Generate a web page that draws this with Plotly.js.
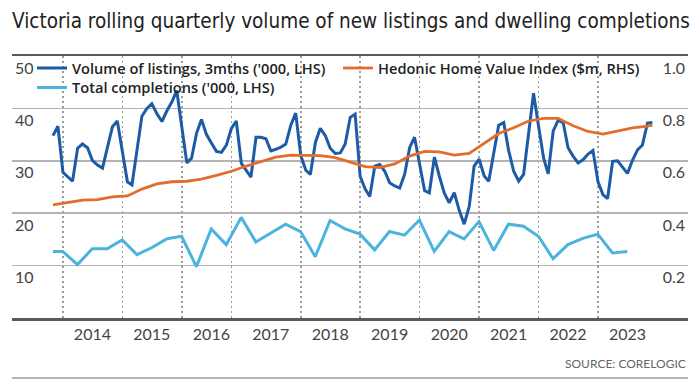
<!DOCTYPE html>
<html>
<head>
<meta charset="utf-8">
<script src="https://cdn.plot.ly/plotly-3.0.1.min.js"></script>
<style>
  html, body { margin: 0; padding: 0; background: #fff; }
  #chart { width: 700px; height: 381px; }
</style>
</head>
<body>
<div id="chart"></div>
<script>
// ---------- DATA ----------
// Volume of listings, rolling 3 months ('000, LHS), monthly from Nov 2013
const listingsStart = [2013, 11];
const listings = [
  34.8, 36.6, 27.8, 26.8, 26.1, 32.4, 33.2, 32.5, 30.1, 29.2, 28.6, 32.5,
  36.5, 37.6, 32.0, 26.0, 25.4, 31.9, 38.5, 40.0, 40.9, 39.0, 37.5, 39.5,
  41.2, 43.4, 36.5, 29.6, 30.5, 35.3, 37.9, 35.0, 33.4, 31.8, 31.6, 33.0,
  36.2, 37.6, 29.5, 28.0, 26.9, 34.5, 34.5, 34.2, 31.9, 32.2, 32.6, 33.2,
  36.8, 39.1, 31.0, 28.2, 27.4, 33.5, 36.2, 34.8, 32.4, 31.4, 31.5, 33.2,
  38.3, 38.9, 27.0, 24.6, 23.2, 29.0, 29.3, 28.0, 25.8, 25.2, 24.8, 27.4,
  32.5, 34.5, 29.0, 24.3, 23.9, 30.7, 27.1, 23.8, 22.0, 23.9, 20.5, 17.9,
  21.3, 29.0, 30.3, 27.1, 26.1, 31.9, 36.8, 37.3, 32.0, 28.0, 26.1, 27.4,
  35.0, 42.9, 36.6, 30.5, 27.5, 35.7, 37.7, 37.3, 32.5, 30.9, 29.6, 30.2,
  31.3, 32.0, 26.0, 23.5, 22.8, 29.9, 30.0, 28.8, 27.6, 30.1, 32.1, 33.0,
  37.2, 37.3
];

// Hedonic Home Value Index ($m, RHS), quarterly from Nov 2013, plus Dec 2023
const hedonicDates = [
  "2013-11-01","2014-02-01","2014-05-01","2014-08-01","2014-11-01",
  "2015-02-01","2015-05-01","2015-08-01","2015-11-01",
  "2016-02-01","2016-05-01","2016-08-01","2016-11-01",
  "2017-02-01","2017-05-01","2017-08-01","2017-11-01",
  "2018-02-01","2018-05-01","2018-08-01","2018-11-01",
  "2019-02-01","2019-05-01","2019-08-01","2019-11-01",
  "2020-02-01","2020-05-01","2020-08-01","2020-11-01",
  "2021-02-01","2021-05-01","2021-08-01","2021-11-01",
  "2022-02-01","2022-05-01","2022-08-01","2022-11-01",
  "2023-02-01","2023-05-01","2023-08-01","2023-11-01","2023-12-01"
];
const hedonic = [
  0.432, 0.440, 0.450, 0.452, 0.462,
  0.466, 0.492, 0.512, 0.520,
  0.522, 0.530, 0.544, 0.560,
  0.580, 0.598, 0.614, 0.622,
  0.622, 0.620, 0.612, 0.596,
  0.578, 0.574, 0.588, 0.618,
  0.636, 0.634, 0.622, 0.628,
  0.668, 0.704, 0.726, 0.752,
  0.762, 0.762, 0.734, 0.712,
  0.702, 0.714, 0.726, 0.732, 0.736
];

// Total completions ('000, LHS), quarterly
const completionsDates = [
  "2013-11-01","2013-12-31",
  "2014-03-31","2014-06-30","2014-09-30","2014-12-31",
  "2015-03-31","2015-06-30","2015-09-30","2015-12-31",
  "2016-03-31","2016-06-30","2016-09-30","2016-12-31",
  "2017-03-31","2017-06-30","2017-09-30","2017-12-31",
  "2018-03-31","2018-06-30","2018-09-30","2018-12-31",
  "2019-03-31","2019-06-30","2019-09-30","2019-12-31",
  "2020-03-31","2020-06-30","2020-09-30","2020-12-31",
  "2021-03-31","2021-06-30","2021-09-30","2021-12-31",
  "2022-03-31","2022-06-30","2022-09-30","2022-12-31",
  "2023-03-31","2023-06-30"
];
const completions = [
  12.7, 12.7,
  10.2, 13.2, 13.2, 14.9,
  12.1, 13.4, 15.1, 15.6,
  9.8, 17.0, 14.0, 19.2,
  14.5, 16.2, 17.9, 16.5,
  11.7, 18.6, 17.0, 16.0,
  13.0, 16.5, 15.8, 18.7,
  12.7, 16.5, 15.1, 18.4,
  12.9, 17.9, 17.5, 15.6,
  11.3, 14.0, 15.2, 16.0,
  12.4, 12.7
];

// Axis labels
const yearLabels = ["2014","2015","2016","2017","2018","2019","2020","2021","2022","2023"];
const yearLabelDates = ["2014-07-01","2015-07-01","2016-07-01","2017-07-01","2018-07-01",
                        "2019-07-01","2020-07-01","2021-07-01","2022-07-01","2023-07-01"];
const yearGridDates = ["2014-01-01","2015-01-01","2016-01-01","2016-11-01","2018-01-01",
                       "2019-01-01","2020-01-01","2021-01-01","2022-01-01","2023-01-01"];
const leftTicks = [10, 20, 30, 40, 50];
const rightTicks = [0.2, 0.4, 0.6, 0.8, 1.0];
const rightTickText = ["0.2", "0.4", "0.6", "0.8", "1.0"];

// monthly date strings for listings
const listingsDates = listings.map((_, i) => {
  const m0 = listingsStart[1] - 1 + i;
  const y = listingsStart[0] + Math.floor(m0 / 12);
  const m = (m0 % 12) + 1;
  return y + "-" + String(m).padStart(2, "0") + "-01";
});

// ---------- STYLE ----------
const FONT = "Lato, 'Open Sans', sans-serif";
const cListings = "#1d5ba6";
const cHedonic = "#e36d2c";
const cCompletions = "#4cb4dc";

const traces = [
  {
    x: completionsDates, y: completions, type: "scatter", mode: "lines",
    name: "Total completions ('000, LHS)", legend: "legend3",
    line: { color: cCompletions, width: 3 }, xaxis: "x", yaxis: "y", hoverinfo: "skip"
  },
  {
    x: hedonicDates, y: hedonic, type: "scatter", mode: "lines",
    name: "Hedonic Home Value Index ($m, RHS)", legend: "legend2",
    line: { color: cHedonic, width: 2.8 }, xaxis: "x", yaxis: "y2", hoverinfo: "skip"
  },
  {
    x: listingsDates, y: listings, type: "scatter", mode: "lines",
    name: "Volume of listings, 3mths ('000, LHS)", legend: "legend",
    line: { color: cListings, width: 3 }, xaxis: "x", yaxis: "y", hoverinfo: "skip"
  }
];

const plotL = 12, plotR = 688, plotT = 56, plotB = 318;
const px2paperX = p => (p - plotL) / (plotR - plotL);
const py2paperY = p => (plotB - p) / (plotB - plotT);

const legendCommon = {
  orientation: "h", xanchor: "left", yanchor: "middle",
  bgcolor: "rgba(255,255,255,0)", borderwidth: 0, itemwidth: 30,
  font: { family: "'Open Sans', Lato, sans-serif", size: 14.6, color: "#222", weight: 600 },
  itemclick: false, itemdoubleclick: false
};

const layout = {
  width: 700, height: 381, autosize: false,
  margin: { l: plotL, r: 700 - plotR, t: plotT, b: 381 - plotB, pad: 0 },
  paper_bgcolor: "#ffffff", plot_bgcolor: "#ffffff",
  showlegend: true,
  title: {
    text: "Victoria rolling quarterly volume of new listings and dwelling completions",
    font: { family: "'DejaVu Sans Condensed', 'DejaVu Sans', sans-serif", size: 20.5, color: "#222" },
    x: px2paperX(12), xref: "paper", xanchor: "left",
    y: 1 - 21 / 381, yref: "container", yanchor: "middle"
  },
  xaxis: {
    type: "date",
    range: ["2013-02-22", "2024-07-07"],
    tickmode: "array", tickvals: yearLabelDates, ticktext: yearLabels,
    showgrid: false, ticks: "", zeroline: false,
    tickfont: { family: FONT, size: 16, color: "#444" },
    showline: true, mirror: true, linecolor: "#5a5a5a", linewidth: 2.5,
    minor: {
      tickmode: "array", tickvals: yearGridDates,
      showgrid: true, gridcolor: "#9a9a9a", gridwidth: 1.5, griddash: "1.5px,3.5px",
      ticks: ""
    },
    fixedrange: true
  },
  yaxis: {
    range: [0, 50], tickmode: "array", tickvals: leftTicks,
    showgrid: true, gridcolor: "#b3b3b3", gridwidth: 1.5, zeroline: false,
    ticks: "", ticklabelposition: "inside", ticklabelshift: 12,
    tickfont: { family: FONT, size: 16, color: "#444" },
    showline: false, fixedrange: true
  },
  yaxis2: {
    range: [0, 1], overlaying: "y", side: "right",
    tickmode: "array", tickvals: rightTicks, ticktext: rightTickText,
    showgrid: false, zeroline: false,
    ticks: "", ticklabelposition: "inside", ticklabelshift: 12,
    tickfont: { family: FONT, size: 16, color: "#444" },
    showline: false, fixedrange: true
  },
  legend: Object.assign({}, legendCommon, { x: px2paperX(32), y: py2paperY(68) }),
  legend2: Object.assign({}, legendCommon, { x: px2paperX(338), y: py2paperY(68) }),
  legend3: Object.assign({}, legendCommon, { x: px2paperX(32), y: py2paperY(87.5) }),
  annotations: [
    {
      text: "SOURCE: CORELOGIC", xref: "paper", yref: "paper",
      x: 1, y: py2paperY(363), xanchor: "right", yanchor: "middle",
      showarrow: false, font: { family: FONT, size: 12, color: "#666" }
    }
  ],
  shapes: [
    // white backing behind the legend rows (hides the dotted year lines there)
    {
      type: "rect", xref: "paper", yref: "paper", layer: "between",
      x0: px2paperX(34), x1: px2paperX(648), y0: py2paperY(79), y1: py2paperY(59),
      fillcolor: "#ffffff", line: { width: 0 }
    },
    {
      type: "rect", xref: "paper", yref: "paper", layer: "between",
      x0: px2paperX(34), x1: px2paperX(290), y0: py2paperY(96), y1: py2paperY(79),
      fillcolor: "#ffffff", line: { width: 0 }
    },
    {
      type: "line", xref: "paper", yref: "paper",
      x0: 0, x1: 1, y0: py2paperY(378), y1: py2paperY(378),
      line: { color: "#9a9a9a", width: 1.5 }
    }
  ]
};

Plotly.newPlot("chart", traces, layout, { displayModeBar: false, staticPlot: true });
</script>
</body>
</html>
